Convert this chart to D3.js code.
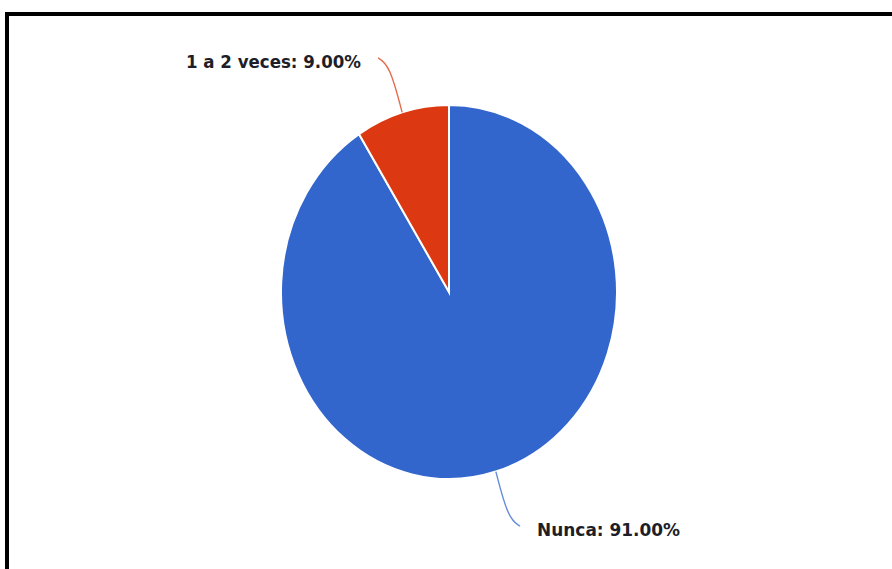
<!DOCTYPE html>
<html>
<head>
<meta charset="utf-8">
<script src="https://cdn.jsdelivr.net/npm/d3@7"></script>
<style>
  body { margin: 0; background: #fff; }
  svg { display: block; }
</style>
</head>
<body>
<svg width="892" height="569"></svg>
<script>
(function () {
  const categories = ["Nunca", "1 a 2 veces"];
  const values = [91, 9];
  const labels = ["Nunca: 91.00%", "1 a 2 veces: 9.00%"];
  const colors = ["#3366cc", "#dc3912"];

  const svg = d3.select("svg");

  // frame
  svg.append("rect")
    .attr("x", 7).attr("y", 14)
    .attr("width", 900).attr("height", 600)
    .attr("fill", "none")
    .attr("stroke", "#000")
    .attr("stroke-width", 4);

  const cx = 449, cy = 292;
  const R = 187;          // vertical radius
  const sx = 168 / 187;   // the pie is squashed horizontally

  const pie = d3.pie().sort(null).value(d => d)(values);
  const arc = d3.arc().innerRadius(0).outerRadius(R);

  const g = svg.append("g").attr("transform", `translate(${cx}, ${cy})`);

  g.append("g")
    .attr("transform", `scale(${sx}, 1)`)
    .selectAll("path")
    .data(pie)
    .enter()
    .append("path")
    .attr("d", arc)
    .attr("fill", (d, i) => colors[i])
    .attr("stroke", "#fff")
    .attr("stroke-width", 2)
    .attr("vector-effect", "non-scaling-stroke");

  const pt = (a, k) => [sx * R * k * Math.sin(a), -R * k * Math.cos(a)];
  const line = d3.line().curve(d3.curveBasis);

  pie.forEach((d, i) => {
    const a = (d.startAngle + d.endAngle) / 2;
    const s = Math.sin(a) >= 0 ? 1 : -1;
    const p0 = pt(a, 1.0);
    const p1 = pt(a, 1.26);
    const p2 = [p1[0] + s * 12, p1[1] - 8 * Math.sign(Math.cos(a))];

    g.append("path")
      .attr("d", line([p0, p1, p2]))
      .attr("fill", "none")
      .attr("stroke", colors[i])
      .attr("stroke-opacity", 0.75)
      .attr("stroke-width", 1.4);

    const t = g.append("text")
      .attr("x", p2[0] + s * 17)
      .attr("y", p2[1] + 10)
      .attr("text-anchor", s > 0 ? "start" : "end")
      .attr("font-family", "'DejaVu Sans Condensed', 'Liberation Sans', sans-serif")
      .attr("font-weight", "bold")
      .attr("font-size", 17)
      .attr("fill", "#1e1e28")
      .text(labels[i]);
    const w = i === 0 ? 143 : 175;
    t.attr("textLength", w).attr("lengthAdjust", "spacingAndGlyphs");
  });
})();
</script>
</body>
</html>
